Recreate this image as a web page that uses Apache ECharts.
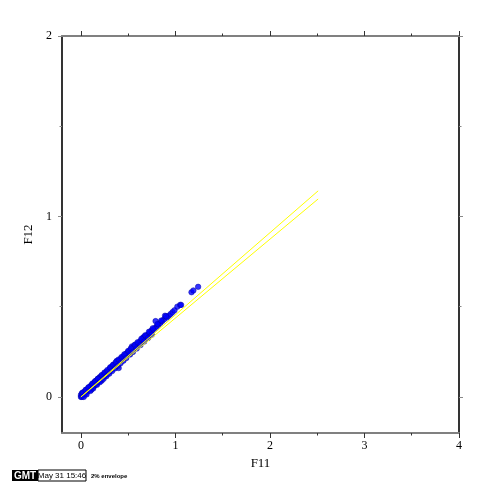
<!DOCTYPE html>
<html>
<head>
<meta charset="utf-8">
<script src="https://cdn.jsdelivr.net/npm/echarts@6/dist/echarts.min.js"></script>
<style>html,body{margin:0;padding:0;background:#fff}#c{width:499px;height:495px}</style>
</head>
<body>
<div id="c"></div>
<script>
// Data
var f11 = [0.00,0.00,0.01,0.01,0.02,0.02,0.03,0.03,0.04,0.04,0.05,0.05,0.06,0.06,0.07,0.07,0.08,0.08,0.09,0.09,0.10,0.10,0.11,0.11,0.12,0.12,0.13,0.13,0.14,0.14,0.15,0.15,0.16,0.16,0.17,0.17,0.18,0.18,0.19,0.19,0.20,0.20,0.21,0.21,0.22,0.22,0.23,0.23,0.24,0.24,0.25,0.25,0.26,0.26,0.27,0.27,0.28,0.28,0.29,0.30,0.30,0.31,0.31,0.32,0.32,0.33,0.33,0.34,0.35,0.35,0.36,0.36,0.37,0.38,0.38,0.39,0.40,0.40,0.41,0.42,0.43,0.44,0.45,0.46,0.47,0.48,0.49,0.50,0.51,0.52,0.53,0.54,0.55,0.56,0.57,0.58,0.60,0.61,0.62,0.63,0.65,0.66,0.67,0.69,0.70,0.72,0.73,0.75,0.76,0.78,0.79,0.80,0.82,0.84,0.86,0.88,0.89,0.91,0.93,0.95,0.97,0.99,1.02,1.05,1.06,1.17,1.19,1.24,
  0.02,0.05,0.08,0.12,0.15,0.18,0.22,0.25,0.28,0.31,0.34,0.37,0.40,0.43,0.46,0.50,0.53,0.57,0.60,0.64,0.68,0.72,0.76,0.81,0.85,0.90,
  0.03,0.06,0.10,0.13,0.17,0.20,0.24,0.27,0.30,0.33,0.36,0.39,0.42,0.45,0.48,0.52,0.55,0.59,0.63,0.67,0.71,0.75];
var f12 = [0.00,0.01,0.00,0.02,0.01,0.02,0.01,0.02,0.02,0.03,0.02,0.03,0.03,0.04,0.03,0.04,0.04,0.05,0.04,0.05,0.05,0.06,0.04,0.06,0.05,0.07,0.06,0.07,0.06,0.08,0.07,0.08,0.07,0.09,0.08,0.09,0.08,0.10,0.09,0.10,0.09,0.11,0.10,0.11,0.09,0.11,0.11,0.12,0.11,0.12,0.12,0.13,0.12,0.13,0.13,0.14,0.13,0.14,0.14,0.14,0.15,0.15,0.16,0.15,0.16,0.16,0.17,0.16,0.17,0.18,0.17,0.18,0.18,0.18,0.20,0.19,0.16,0.20,0.20,0.21,0.21,0.22,0.22,0.23,0.23,0.24,0.24,0.25,0.25,0.26,0.26,0.28,0.27,0.28,0.28,0.29,0.29,0.30,0.30,0.31,0.32,0.33,0.33,0.34,0.34,0.35,0.36,0.37,0.37,0.38,0.42,0.39,0.40,0.41,0.42,0.43,0.45,0.44,0.45,0.46,0.47,0.48,0.50,0.51,0.51,0.58,0.59,0.61,
  0.025,0.039,0.053,0.073,0.087,0.101,0.121,0.135,0.149,0.164,0.178,0.193,0.207,0.221,0.236,0.255,0.269,0.289,0.303,0.322,0.341,0.361,0.380,0.404,0.423,0.447,
  0.000,0.014,0.033,0.047,0.067,0.081,0.100,0.115,0.129,0.143,0.158,0.172,0.187,0.201,0.215,0.235,0.249,0.268,0.287,0.307,0.326,0.345];
var envX = [0, 2.51];
var envUpper = [0, 1.142];
var envLower = [0, 1.097];
var xMajor = [0, 1, 2, 3, 4];
var xMinor = [0.5, 1.5, 2.5, 3.5];
var yMajor = [0, 1, 2];
var yMinor = [0.5, 1.5];

var pts = f11.map(function (x, i) { return [x, f12[i]]; });
var up = envX.map(function (x, i) { return [x, envUpper[i]]; });
var lo = envX.map(function (x, i) { return [x, envLower[i]]; });

var serif = '"Liberation Serif","DejaVu Serif",serif';
function xa(pos, ticks, len, labels, lineColor) {
  return {
    type: 'value', position: pos, min: -0.2, max: 4,
    axisLine: { show: !!lineColor, onZero: false, lineStyle: { color: lineColor || '#000', width: 2 } },
    axisTick: { show: true, customValues: ticks, length: len, lineStyle: { color: '#333', width: 1 } },
    axisLabel: labels ? { show: true, customValues: labels, color: '#000', fontFamily: serif, fontSize: 12, margin: 7 } : { show: false },
    splitLine: { show: false }
  };
}
function ya(pos, ticks, len, labels, lineColor) {
  return {
    type: 'value', position: pos, min: -0.2, max: 2,
    axisLine: { show: !!lineColor, onZero: false, lineStyle: { color: lineColor || '#000', width: 1.6 } },
    axisTick: { show: true, customValues: ticks, length: len, lineStyle: { color: '#888', width: 1 } },
    axisLabel: labels ? { show: true, customValues: labels, color: '#000', fontFamily: serif, fontSize: 12, margin: 10 } : { show: false },
    splitLine: { show: false }
  };
}
var xs = [xa('bottom', xMajor, 5, xMajor, '#808080'), xa('bottom', xMinor, 2.5, null, null),
          xa('top', xMajor, 5, null, '#808080'), xa('top', xMinor, 2.5, null, null)];
xs[0].name = 'F11'; xs[0].nameLocation = 'middle'; xs[0].nameGap = 24;
xs[0].nameTextStyle = { fontFamily: serif, fontSize: 13, color: '#000' };
var ys = [ya('left', yMajor, 4, yMajor, '#000'), ya('left', yMinor, 2.5, null, null),
          ya('right', yMajor, 4, null, '#000'), ya('right', yMinor, 2.5, null, null)];
ys[0].name = 'F12'; ys[0].nameLocation = 'middle'; ys[0].nameGap = 23;
ys[0].nameTextStyle = { fontFamily: serif, fontSize: 13, color: '#000' };

var chart = echarts.init(document.getElementById('c'), null, { renderer: 'canvas' });
chart.setOption({
  animation: false,
  backgroundColor: '#fff',
  grid: { left: 62, right: 40, top: 36, bottom: 62 },
  xAxis: xs,
  yAxis: ys,
  series: [
    { type: 'scatter', data: pts, symbol: 'circle', symbolSize: 5.5,
      itemStyle: { color: '#0000ff', borderColor: '#0000a0', borderWidth: 0.6 }, z: 2 },
    { type: 'line', data: up, showSymbol: false, lineStyle: { color: '#ffff00', width: 1 }, z: 3 },
    { type: 'line', data: lo, showSymbol: false, lineStyle: { color: '#ffff00', width: 1 }, z: 3 }
  ],
  graphic: [
    { type: 'rect', shape: { x: 12, y: 470, width: 26, height: 11 }, style: { fill: '#000' } },
    { type: 'text', x: 25, y: 476, style: { text: 'GMT', fill: '#fff', font: 'bold 10px "Liberation Sans",Arial,sans-serif', align: 'center', verticalAlign: 'middle' } },
    { type: 'rect', shape: { x: 38, y: 470, width: 48, height: 11 }, style: { fill: '#fff', stroke: '#000', lineWidth: 1 } },
    { type: 'text', x: 62, y: 476, style: { text: 'May 31 15:46', fill: '#000', font: '8px "Liberation Sans",Arial,sans-serif', align: 'center', verticalAlign: 'middle' } },
    { type: 'text', x: 91, y: 476, style: { text: '2% envelope', fill: '#000', font: 'bold 6px "Liberation Sans",Arial,sans-serif', align: 'left', verticalAlign: 'middle' } }
  ]
});
</script>
</body>
</html>
